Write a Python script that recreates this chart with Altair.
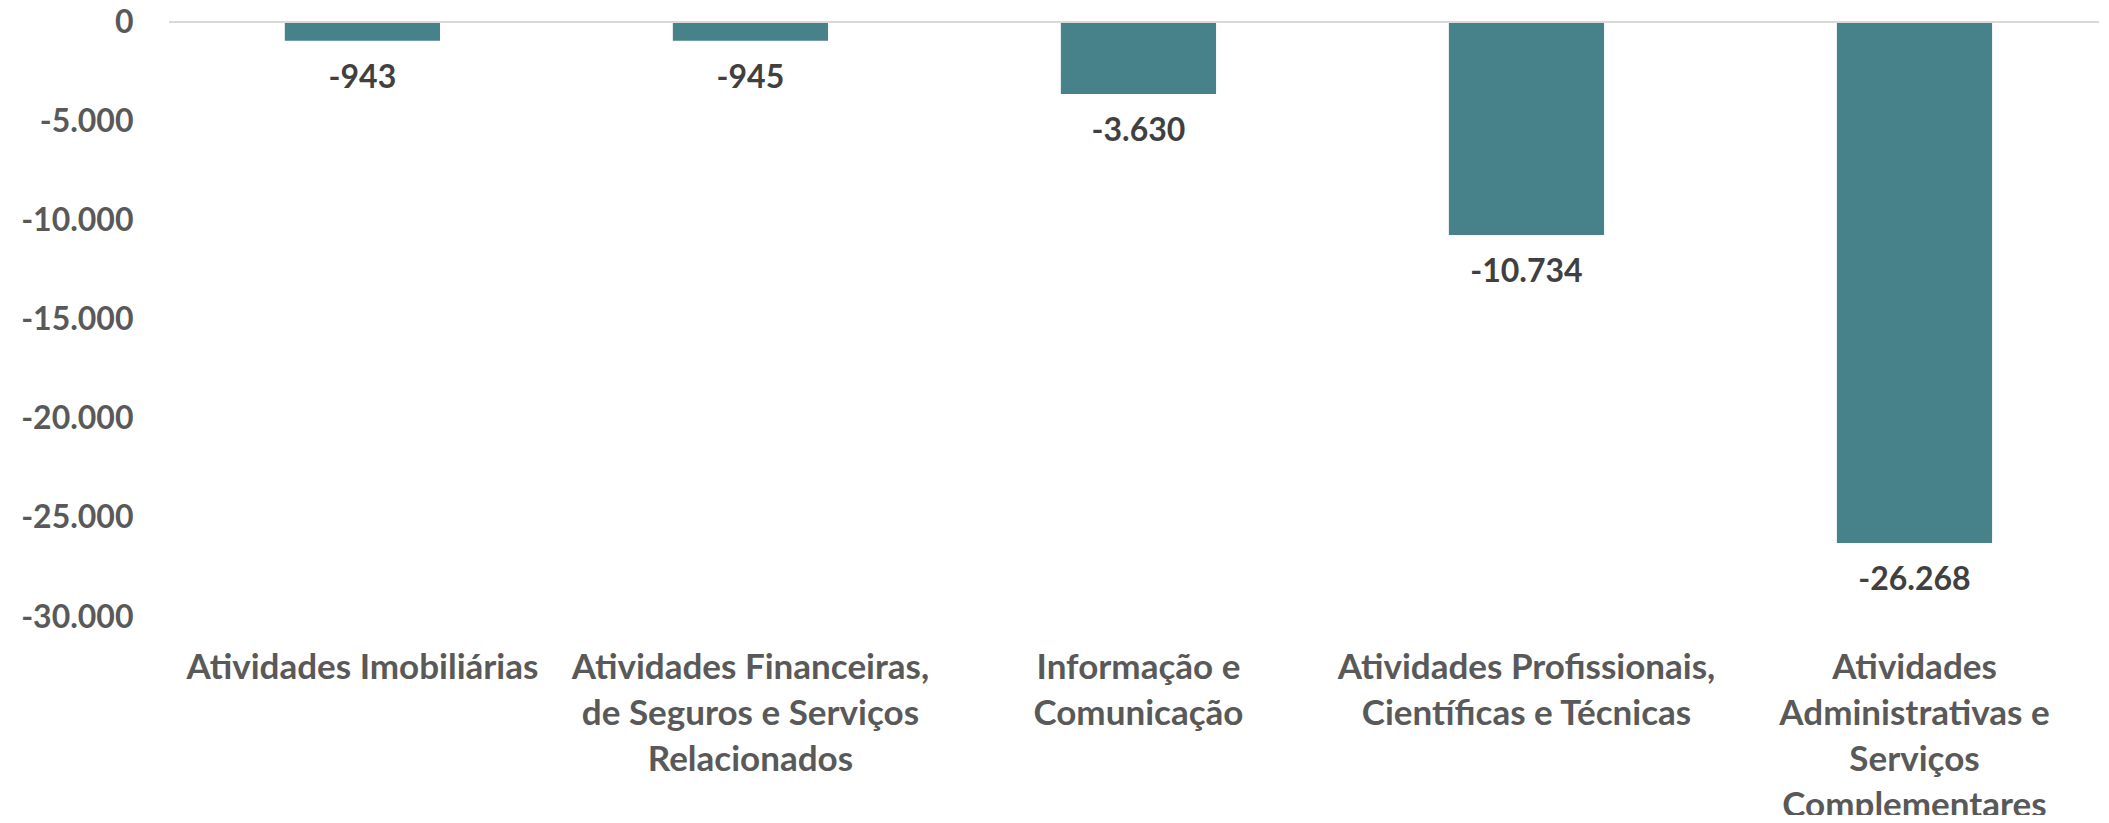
import altair as alt
import pandas as pd

categories = [
    "Atividades Imobiliárias",
    "Atividades Financeiras,|de Seguros e Serviços|Relacionados",
    "Informação e|Comunicação",
    "Atividades Profissionais,|Científicas e Técnicas",
    "Atividades|Administrativas e|Serviços|Complementares",
]
values = [-943, -945, -3630, -10734, -26268]
y_ticks = [0, -5000, -10000, -15000, -20000, -25000, -30000]

df = pd.DataFrame({"cat": categories, "val": values})

FONT = "Lato"
BAR = "#47818A"

x_enc = alt.X(
    "cat:N",
    sort=None,
    title=None,
    scale=alt.Scale(paddingInner=0.6, paddingOuter=0.287, align=0.52),
    axis=alt.Axis(
        orient="bottom",
        labelExpr="split(datum.label, '|')",
        labelAngle=0,
        labelFont=FONT,
        labelFontSize=35,
        labelFontWeight="bold",
        labelColor="#595959",
        labelLineHeight=46,
        labelPadding=33,
        labelBaseline="top",
        labelLimit=500,
        labelOverlap=False,
        labelFlush=False,
        ticks=False,
        domain=False,
        grid=False,
    ),
)

y_enc = alt.Y(
    "val:Q",
    title=None,
    scale=alt.Scale(domain=[-30000, 0], nice=False, zero=True),
    axis=alt.Axis(
        values=y_ticks,
        format=",.0f",
        grid=False,
        ticks=False,
        domain=False,
        labelPadding=36,
        labelFont=FONT,
        labelFontSize=32,
        labelFontWeight="bold",
        labelColor="#595959",
        labelBaseline="middle",
    ),
)

base = alt.Chart(df)

bars = base.mark_bar(color=BAR).encode(x=x_enc, y=y_enc)

zero = alt.Chart(pd.DataFrame({"z": [0]})).mark_rule(color="#D9D9D9", strokeWidth=2).encode(
    y=alt.Y("z:Q")
)

labels = base.mark_text(
    dy=37,
    baseline="middle",
    align="center",
    font=FONT,
    fontSize=32,
    fontWeight="bold",
    color="#404040",
).encode(x=alt.X("cat:N", sort=None), y=alt.Y("val:Q"), text=alt.Text("val:Q", format=",.0f"))

chart = (
    alt.layer(bars, zero, labels)
    .properties(
        width=1930,
        height=595,
        padding={"left": 161, "top": 14, "right": 0, "bottom": 198},
        autosize=alt.AutoSizeParams(type="none"),
        background="white",
    )
    .configure_view(stroke=None)
)

chart.save(
    "out.html",
    embed_options={
        "renderer": "svg",
        "actions": False,
        "formatLocale": {
            "decimal": ",",
            "thousands": ".",
            "grouping": [3],
            "currency": ["R$", ""],
            "minus": "-",
        },
    },
)
